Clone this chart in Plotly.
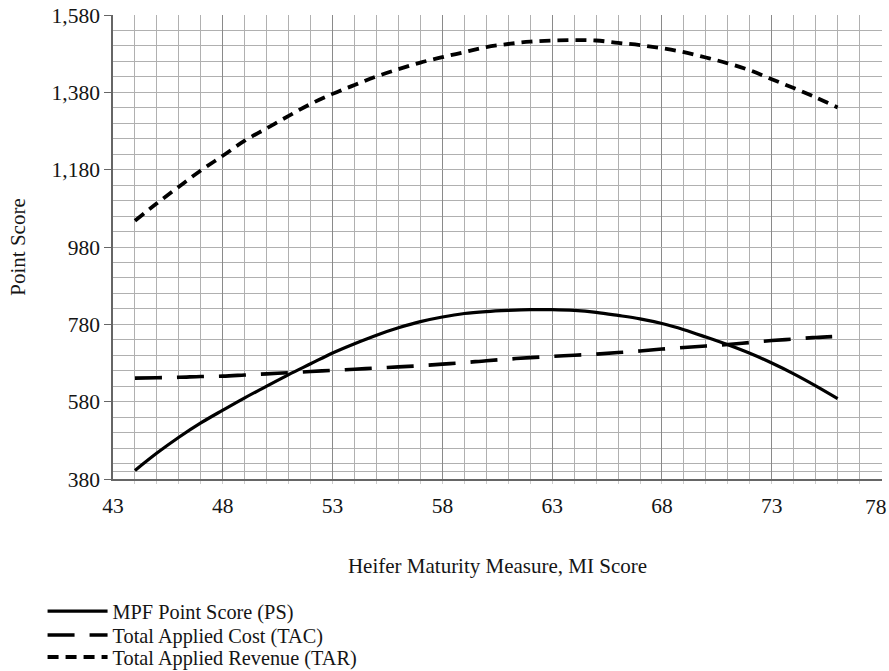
import plotly.graph_objects as go

mi_score = list(range(44, 77))
ps_values = [402, 447, 488, 525, 558, 590, 620, 650, 678, 706, 730, 752, 771, 787, 799,
             808, 813, 816, 818, 818, 816, 811, 803, 794, 782, 766, 747, 727, 705, 680,
             652, 621, 588]
tac_values = [641, 642, 643, 645, 646, 649, 652, 655, 658, 661, 664, 667, 670, 673, 677,
              681, 686, 690, 694, 697, 700, 703, 707, 711, 716, 720, 724, 728, 733, 738,
              742, 746, 749]
tar_values = [1048, 1093, 1136, 1178, 1216, 1255, 1287, 1319, 1350, 1376, 1399, 1421, 1440,
              1457, 1471, 1484, 1497, 1505, 1511, 1514, 1515, 1514, 1508, 1502, 1494, 1484,
              1470, 1455, 1437, 1414, 1391, 1367, 1341]

x_ticks = [43, 48, 53, 58, 63, 68, 73, 78]
x_tick_text = ["43", "48", "53", "58", "63", "68", "73", "78"]
y_ticks = [380, 580, 780, 980, 1180, 1380, 1580]
y_tick_text = ["380", "580", "780", "980", "1,180", "1,380", "1,580"]
y_minor = [400] + list(range(420, 1580, 40))
x_minor = list(range(44, 78))

series_names = ["MPF Point Score (PS)", "Total Applied Cost (TAC)", "Total Applied Revenue (TAR)"]

FONT = "Liberation Serif"
TXT = "#151515"
LEG_FONT = dict(family=FONT, size=20.3, color=TXT)
TICK_FONT = dict(family=FONT, size=21.5, color=TXT)

fig = go.Figure()
fig.add_trace(go.Scatter(x=mi_score, y=ps_values, mode="lines", name=series_names[0],
                         legend="legend",
                         line=dict(color="black", width=3.2, shape="spline")))
fig.add_trace(go.Scatter(x=mi_score, y=tac_values, mode="lines", name=series_names[1],
                         legend="legend2",
                         line=dict(color="black", width=3.6, dash="27px,15px", shape="spline")))
fig.add_trace(go.Scatter(x=mi_score, y=tar_values, mode="lines", name=series_names[2],
                         legend="legend3",
                         line=dict(color="black", width=3.8, dash="11px,7px", shape="spline")))

leg_common = dict(x=-0.0916, xanchor="left", yanchor="middle", font=LEG_FONT,
                  itemwidth=60, bgcolor="rgba(0,0,0,0)")

# last x tick label sits flush with the right edge, so it is placed as an annotation
shown_tick_text = x_tick_text[:-1] + [""]

fig.update_layout(
    width=889, height=671,
    margin=dict(l=112.5, r=6.5, t=15, b=191.5, autoexpand=False),
    paper_bgcolor="white", plot_bgcolor="white",
    font=dict(family=FONT, size=21, color=TXT),
    showlegend=True,
    legend=dict(y=-0.2853, **leg_common),
    legend2=dict(y=-0.3369, **leg_common),
    legend3=dict(y=-0.3843, **leg_common),
    xaxis=dict(
        range=[43, 78.02], tickvals=x_ticks, ticktext=shown_tick_text,
        showgrid=True, gridcolor="#8a8a8a", gridwidth=1.3,
        minor=dict(tickvals=x_minor, showgrid=True, gridcolor="#b0b0b0", gridwidth=1.1,
                   ticks="outside", ticklen=3, tickcolor="#cccccc"),
        showline=True, linecolor="#666", linewidth=1.5,
        ticks="", zeroline=False, automargin=False,
        ticklabeloverflow="allow", ticklabelstandoff=6,
        title=dict(text="Heifer Maturity Measure, MI Score", standoff=42,
                   font=dict(family=FONT, size=21)),
        tickfont=TICK_FONT,
    ),
    yaxis=dict(
        range=[380, 1580], tickvals=y_ticks, ticktext=y_tick_text,
        showgrid=True, gridcolor="#b0b0b0", gridwidth=1.2,
        minor=dict(tickvals=y_minor, showgrid=True, gridcolor="#b0b0b0", gridwidth=1.2),
        showline=True, linecolor="#666", linewidth=1.5,
        ticks="outside", ticklen=7, tickcolor="#666", zeroline=False, automargin=False,
        ticklabeloverflow="allow",
        title=dict(text="Point Score", standoff=20, font=dict(family=FONT, size=21)),
        tickfont=TICK_FONT,
    ),
    annotations=[dict(x=x_ticks[-1], xref="x", y=0, yref="paper", text=x_tick_text[-1],
                      showarrow=False, xanchor="right", yanchor="top",
                      xshift=6, yshift=-15, font=TICK_FONT, borderpad=0)],
)

fig.write_html("out.html", config={"displayModeBar": False},
               post_script="document.body.style.margin='0';document.body.style.padding='0';")
